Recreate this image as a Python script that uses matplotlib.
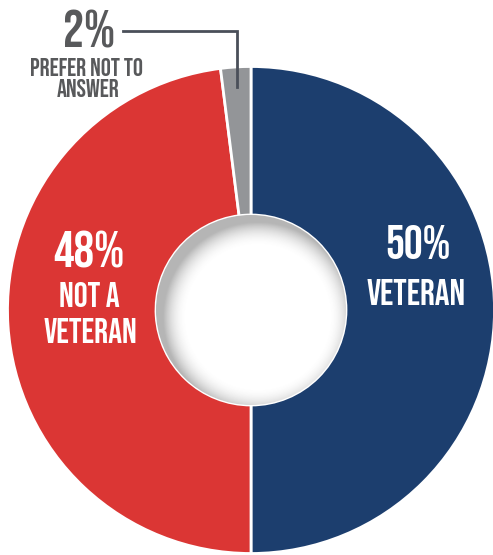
import numpy as np
import matplotlib
matplotlib.use("Agg")
import matplotlib.pyplot as plt
from matplotlib.patches import Circle

categories = ["VETERAN", "NOT A\nVETERAN", "PREFER NOT TO\nANSWER"]
values = [50, 48, 2]
pct_labels = ["50%", "48%", "2%"]
colors = ["#1c3e6e", "#db3634", "#939598"]

W, H = 493, 555
fig = plt.figure(figsize=(W / 100, H / 100), dpi=100)
ax = fig.add_axes([0, 0, 1, 1])

cx, cy = 251, H - 310
R_out, R_in = 243.5, 95

FONT = ["Bebas Neue", "DejaVu Sans"]

ax.pie(values, colors=colors, startangle=90, counterclock=False,
       center=(cx, cy), radius=R_out, frame=True,
       wedgeprops=dict(width=R_out - R_in, edgecolor="white", linewidth=2))
ax.set_xlim(0, W)
ax.set_ylim(0, H)
ax.set_aspect("equal")
ax.axis("off")

# hole inner shadow (light from bottom-right)
n = 300
xs = np.linspace(cx - R_in, cx + R_in, n)
ys = np.linspace(cy - R_in, cy + R_in, n)
X, Y = np.meshgrid(xs, ys)
d = np.hypot(X - (cx + 7), Y - (cy - 7))
w = 24
a = np.clip((d - (R_in - w)) / w, 0, 1) ** 2.0 * 0.5
img = np.zeros((n, n, 4))
img[..., :3] = 0.42
img[..., 3] = a
im = ax.imshow(img, extent=(cx - R_in, cx + R_in, cy - R_in, cy + R_in),
               origin="lower", zorder=3, interpolation="bilinear")
im.set_clip_path(Circle((cx, cy), R_in, transform=ax.transData))


def label(x, y_base_px, s, size, color):
    ax.text(x, H - y_base_px, s, color=color, fontsize=size, family=FONT,
            ha="center", va="baseline", zorder=5)


# VETERAN (blue)
label(418, 259, pct_labels[0], 34, "white")
label(416, 305, categories[0], 26.5, "white")

# NOT A VETERAN (red)
label(88.5, 268, pct_labels[1], 37, "white")
l1, l2 = categories[1].split("\n")
label(89, 307, l1, 25, "white")
label(90, 343, l2, 25, "white")

# PREFER NOT TO ANSWER (gray)
grey_txt = "#58595b"
label(89, 47, pct_labels[2], 38, grey_txt)
l1, l2 = categories[2].split("\n")
label(87, 76, l1, 18, grey_txt)
label(88.5, 97, l2, 18, grey_txt)

# leader line
ax.plot([123, 237, 237], [H - 31, H - 31, H - 87], color="#4a4f59", lw=2,
        solid_joinstyle="miter", zorder=4)

fig.savefig("out.png", dpi=100)
